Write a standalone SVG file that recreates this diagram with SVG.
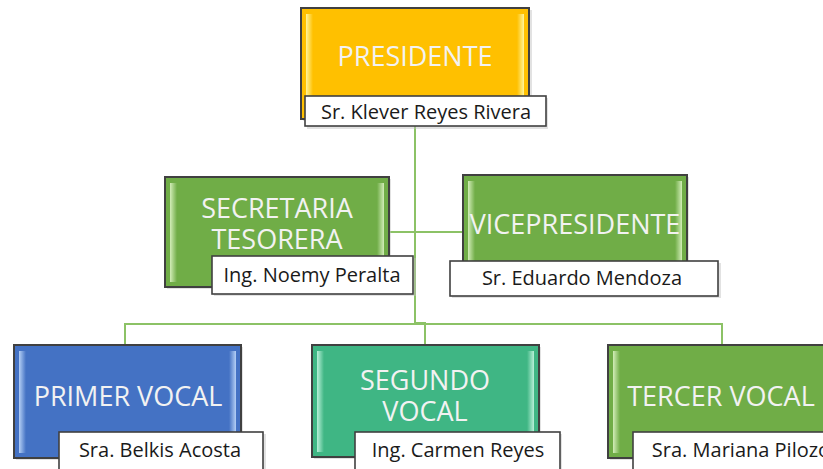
<svg xmlns="http://www.w3.org/2000/svg" width="823" height="469" viewBox="0 0 823 469">
<defs>
<linearGradient id="gy" x1="0" y1="0" x2="1" y2="0"><stop offset="0" stop-color="#FFF59A"/><stop offset="1" stop-color="#FFC000"/></linearGradient>
<linearGradient id="gyR" x1="1" y1="0" x2="0" y2="0"><stop offset="0" stop-color="#FFF59A"/><stop offset="1" stop-color="#FFC000"/></linearGradient>
<linearGradient id="gg" x1="0" y1="0" x2="1" y2="0"><stop offset="0" stop-color="#D2EDB8"/><stop offset="1" stop-color="#70AD47"/></linearGradient>
<linearGradient id="ggR" x1="1" y1="0" x2="0" y2="0"><stop offset="0" stop-color="#D2EDB8"/><stop offset="1" stop-color="#70AD47"/></linearGradient>
<linearGradient id="gb" x1="0" y1="0" x2="1" y2="0"><stop offset="0" stop-color="#B4CFF5"/><stop offset="1" stop-color="#4472C4"/></linearGradient>
<linearGradient id="gbR" x1="1" y1="0" x2="0" y2="0"><stop offset="0" stop-color="#B4CFF5"/><stop offset="1" stop-color="#4472C4"/></linearGradient>
<linearGradient id="gt" x1="0" y1="0" x2="1" y2="0"><stop offset="0" stop-color="#B8F0D8"/><stop offset="1" stop-color="#3FB684"/></linearGradient>
<linearGradient id="gtR" x1="1" y1="0" x2="0" y2="0"><stop offset="0" stop-color="#B8F0D8"/><stop offset="1" stop-color="#3FB684"/></linearGradient>
</defs>
<style>
.box{stroke:#404040;stroke-width:2}
.lab{fill:#FFFFFF;stroke:#404040;stroke-width:1.6}
.shadow{fill:#BFBFBF;opacity:0.45}
.title{font-family:"Open Sans","Liberation Sans",sans-serif;font-size:27px;fill:#F2F2F2;text-anchor:middle;font-weight:500}
.name{font-family:"Open Sans","Liberation Sans",sans-serif;font-size:20px;fill:#1A1A1A;text-anchor:middle}
.conn{stroke:#8CC266;stroke-width:2;fill:none}
</style>
<rect width="823" height="469" fill="#FFFFFF"/>
<g id="connectors">
<path class="conn" d="M415,126 V323"/>
<path class="conn" d="M389,232 H463"/>
<path class="conn" d="M125,345 V324 H722 V345"/>
<path class="conn" d="M416,323 H425 V345"/>
</g>
<g id="presidente">
<rect class="shadow" x="303" y="10" width="229" height="111"/>
<rect class="box" x="301" y="8" width="228" height="111" fill="#FFC000"/>
<rect x="306" y="14" width="7" height="100" fill="url(#gy)"/>
<rect x="517" y="14" width="7" height="100" fill="url(#gyR)"/>
<text class="title" x="415" y="66">PRESIDENTE</text>
<rect class="shadow" x="307" y="98" width="241" height="31"/>
<rect class="lab" x="305" y="96" width="241" height="30"/>
<text class="name" x="426" y="119">Sr. Klever Reyes Rivera</text>
</g>
<g id="secretaria">
<rect class="shadow" x="167" y="179" width="224" height="110"/>
<rect class="box" x="165" y="177" width="224" height="110" fill="#70AD47"/>
<rect x="170" y="183" width="7" height="99" fill="url(#gg)"/>
<rect x="377" y="183" width="7" height="99" fill="url(#ggR)"/>
<text class="title" x="277" y="218">SECRETARIA</text>
<text class="title" x="277" y="249">TESORERA</text>
<rect class="shadow" x="214" y="258" width="202" height="38"/>
<rect class="lab" x="212" y="256" width="201" height="38"/>
<text class="name" x="312" y="282">Ing. Noemy Peralta</text>
</g>
<g id="vicepresidente">
<rect class="shadow" x="465" y="177" width="224" height="110"/>
<rect class="box" x="463" y="175" width="224" height="110" fill="#70AD47"/>
<rect x="468" y="181" width="7" height="99" fill="url(#gg)"/>
<rect x="675" y="181" width="7" height="99" fill="url(#ggR)"/>
<text class="title" x="575" y="234">VICEPRESIDENTE</text>
<rect class="shadow" x="452" y="263" width="269" height="35"/>
<rect class="lab" x="450" y="261" width="268" height="35"/>
<text class="name" x="582" y="285">Sr. Eduardo Mendoza</text>
</g>
<g id="primer-vocal">
<rect class="shadow" x="16" y="347" width="227" height="113"/>
<rect class="box" x="14" y="345" width="227" height="113" fill="#4472C4"/>
<rect x="19" y="351" width="7" height="102" fill="url(#gb)"/>
<rect x="229" y="351" width="7" height="102" fill="url(#gbR)"/>
<text class="title" x="128" y="406">PRIMER VOCAL</text>
<rect class="shadow" x="61" y="434" width="205" height="40"/>
<rect class="lab" x="59" y="432" width="204" height="40"/>
<text class="name" x="160" y="457">Sra. Belkis Acosta</text>
</g>
<g id="segundo-vocal">
<rect class="shadow" x="314" y="347" width="227" height="112"/>
<rect class="box" x="312" y="345" width="227" height="112" fill="#3FB684"/>
<rect x="317" y="351" width="7" height="101" fill="url(#gt)"/>
<rect x="527" y="351" width="7" height="101" fill="url(#gtR)"/>
<text class="title" x="425" y="390">SEGUNDO</text>
<text class="title" x="425" y="421">VOCAL</text>
<rect class="shadow" x="357" y="434" width="205" height="40"/>
<rect class="lab" x="355" y="432" width="205" height="40"/>
<text class="name" x="458" y="457">Ing. Carmen Reyes</text>
</g>
<g id="tercer-vocal">
<rect class="shadow" x="610" y="347" width="230" height="113"/>
<rect class="box" x="608" y="345" width="230" height="113" fill="#70AD47"/>
<rect x="613" y="351" width="7" height="102" fill="url(#gg)"/>
<text class="title" x="721" y="406">TERCER VOCAL</text>
<rect class="shadow" x="635" y="434" width="205" height="40"/>
<rect class="lab" x="633" y="432" width="205" height="40"/>
<text class="name" x="741" y="457">Sra. Mariana Pilozo</text>
</g>
</svg>
